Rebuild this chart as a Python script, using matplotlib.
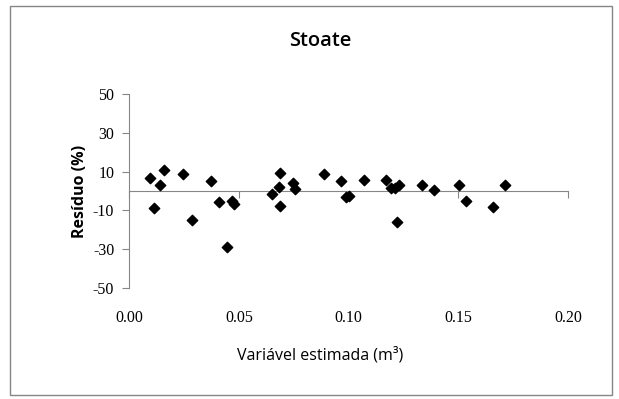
import matplotlib.pyplot as plt
from matplotlib.patches import Rectangle

plt.rcParams['axes.unicode_minus'] = False

# residuals
vol = [0.0094, 0.0113, 0.0140, 0.0158, 0.0245, 0.0286, 0.0374, 0.0410, 0.0444,
       0.0469, 0.0475, 0.0651, 0.0680, 0.0685, 0.0685, 0.0746, 0.0754, 0.0888,
       0.0966, 0.0989, 0.1000, 0.1070, 0.1169, 0.1191, 0.1209, 0.1227, 0.1221,
       0.1333, 0.1387, 0.1505, 0.1536, 0.1656, 0.1711]
resid = [6.8, -8.8, 3.1, 10.8, 8.8, -14.7, 4.9, -5.6, -29.0,
         -5.3, -6.9, -1.7, 2.2, 9.5, -7.5, 3.9, 0.8, 8.8,
         4.9, -3.1, -2.4, 5.6, 5.6, 1.4, 1.4, 3.1, -15.9,
         3.1, 0.3, 3.1, -4.9, -8.1, 3.1]
xticks = [0.00, 0.05, 0.10, 0.15, 0.20]
yticks = [-50, -30, -10, 10, 30, 50]

grey = '#868686'
fig = plt.figure(figsize=(6.19, 3.99), dpi=100)
fig.patches.append(Rectangle((0.016, 0.01), 0.972, 0.975, transform=fig.transFigure,
                             fill=False, edgecolor=grey, linewidth=1))

ax = fig.add_axes([0.2092, 0.2782, 0.7084, 0.4862])
ax.scatter(vol, resid, marker='D', s=28, color='black', zorder=3)
ax.set_xlim(0, 0.20)
ax.set_ylim(-50, 50)

for side in ['top', 'right', 'bottom']:
    ax.spines[side].set_visible(False)
ax.spines['left'].set_color(grey)

ax.set_yticks(yticks)
ax.set_xticks(xticks)
ax.set_xticklabels([f'{v:.2f}' for v in xticks])
ax.tick_params(axis='x', length=0, pad=16)
ax.tick_params(axis='y', direction='out', length=5, color=grey, pad=6)
for lab in ax.get_xticklabels() + ax.get_yticklabels():
    lab.set_family('Liberation Serif')
    lab.set_fontsize(11.5)

# axis line crossing at zero with ticks hanging below it
sec = ax.secondary_xaxis(0.5)
sec.set_alignment('bottom')
sec.set_xticks(xticks)
sec.tick_params(axis='x', direction='out', length=5, color=grey,
                labeltop=False, labelbottom=False)
for sp in sec.spines.values():
    sp.set_color(grey)

fig.text(0.517, 0.897, 'Stoate', ha='center', va='center', fontsize=14.5,
         family='Open Sans', fontweight='semibold')
fig.text(0.517, 0.11, 'Variável estimada (m³)', ha='center', va='center',
         fontsize=11.5, family='Open Sans')
fig.text(0.13, 0.52, 'Resíduo (%)', ha='center', va='center', rotation=90,
         fontsize=11.5, family='Open Sans', fontweight='bold')

fig.savefig('out.png', dpi=100)
